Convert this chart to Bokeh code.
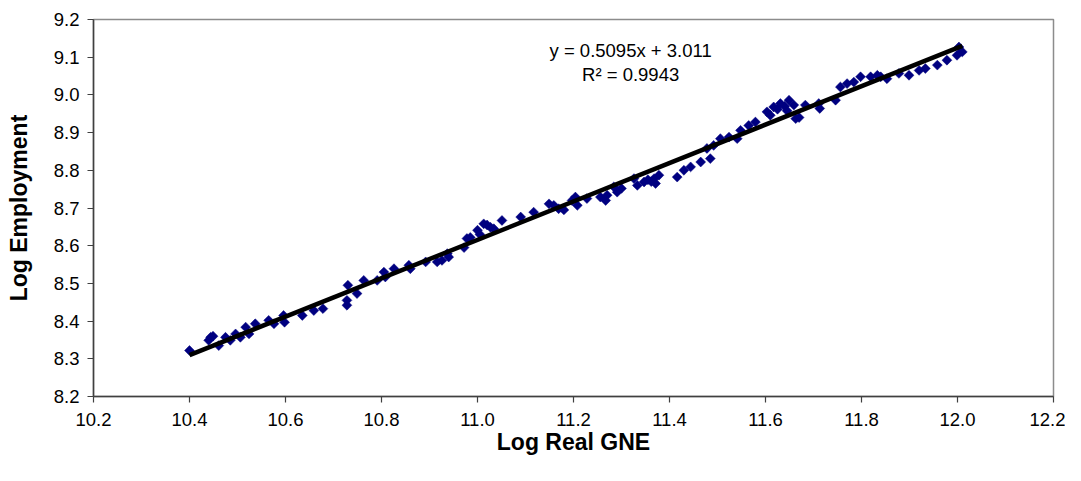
import numpy as np
from bokeh.plotting import figure
from bokeh.models import Range1d, FixedTicker, PrintfTickFormatter, Label
from bokeh.embed import file_html
from bokeh.resources import INLINE

# --- data ---
log_gne = [
    10.400, 10.440, 10.444, 10.449, 10.461, 10.475, 10.485, 10.496, 10.506, 10.517,
    10.524, 10.537, 10.565, 10.576, 10.596, 10.598, 10.635, 10.659, 10.678, 10.728,
    10.728, 10.730, 10.749, 10.763, 10.791, 10.805, 10.808, 10.826, 10.857, 10.860,
    10.892, 10.916, 10.926, 10.937, 10.940, 10.972, 10.978, 10.985, 11.000, 11.005,
    11.013, 11.020, 11.027, 11.034, 11.051, 11.090, 11.117, 11.149, 11.159, 11.169,
    11.180, 11.197, 11.204, 11.208, 11.228, 11.256, 11.267, 11.270, 11.284, 11.291,
    11.300, 11.326, 11.333, 11.347, 11.355, 11.362, 11.368, 11.371, 11.378, 11.416,
    11.430, 11.444, 11.465, 11.478, 11.485, 11.492, 11.506, 11.524, 11.541, 11.548,
    11.565, 11.579, 11.603, 11.610, 11.617, 11.625, 11.631, 11.640, 11.645, 11.649,
    11.659, 11.663, 11.670, 11.683, 11.711, 11.713, 11.746, 11.756, 11.770, 11.784,
    11.798, 11.819, 11.833, 11.840, 11.853, 11.878, 11.899, 11.920, 11.933, 11.958,
    11.978, 11.999, 12.003, 12.010,
]
log_emp = [
    8.322, 8.349, 8.357, 8.360, 8.335, 8.357, 8.349, 8.366, 8.357, 8.384,
    8.366, 8.393, 8.402, 8.393, 8.415, 8.397, 8.415, 8.428, 8.433, 8.455,
    8.442, 8.495, 8.473, 8.508, 8.508, 8.530, 8.517, 8.539, 8.548, 8.539,
    8.557, 8.557, 8.561, 8.579, 8.570, 8.595, 8.619, 8.622, 8.641, 8.630,
    8.658, 8.655, 8.649, 8.645, 8.667, 8.676, 8.689, 8.711, 8.707, 8.698,
    8.695, 8.720, 8.729, 8.707, 8.725, 8.729, 8.720, 8.734, 8.756, 8.742,
    8.752, 8.778, 8.760, 8.769, 8.775, 8.770, 8.778, 8.765, 8.787, 8.782,
    8.800, 8.809, 8.822, 8.858, 8.831, 8.866, 8.884, 8.888, 8.884, 8.906,
    8.919, 8.928, 8.955, 8.946, 8.968, 8.962, 8.977, 8.970, 8.958, 8.986,
    8.973, 8.937, 8.940, 8.973, 8.977, 8.964, 8.986, 9.021, 9.030, 9.034,
    9.048, 9.048, 9.052, 9.048, 9.043, 9.057, 9.052, 9.065, 9.070, 9.079,
    9.092, 9.105, 9.127, 9.114,
]
trend_slope = 0.5095
trend_intercept = 3.011
r_squared = 0.9943
x_ticks = [10.2, 10.4, 10.6, 10.8, 11.0, 11.2, 11.4, 11.6, 11.8, 12.0, 12.2]
y_ticks = [8.2, 8.3, 8.4, 8.5, 8.6, 8.7, 8.8, 8.9, 9.0, 9.1, 9.2]

FONT = "Liberation Sans"

p = figure(width=1065, height=465, output_backend="svg", toolbar_location=None,
           x_range=Range1d(10.2, 12.2), y_range=Range1d(8.2, 9.2),
           min_border_left=93, min_border_right=12, min_border_top=19,
           min_border_bottom=69)
p.background_fill_color = "white"
p.border_fill_color = "white"
p.outline_line_color = "#8c8c8c"
p.outline_line_width = 1.5
p.xgrid.visible = False
p.ygrid.visible = False

for ax, ticks in ((p.xaxis, x_ticks), (p.yaxis, y_ticks)):
    ax.ticker = FixedTicker(ticks=ticks)
    ax.formatter = PrintfTickFormatter(format="%.1f")
    ax.minor_tick_line_color = None
    ax.major_tick_in = 0
    ax.major_tick_out = 6
    ax.axis_line_color = "#404040"
    ax.axis_line_width = 1.5
    ax.major_tick_line_color = "#404040"
    ax.major_tick_line_width = 1.2
    ax.major_label_text_font = FONT
    ax.major_label_text_font_size = "18.5px"
    ax.major_label_text_color = "black"
    ax.axis_label_text_font = FONT
    ax.axis_label_text_font_size = "23px"
    ax.axis_label_text_font_style = "bold"
    ax.axis_label_text_color = "black"

p.xaxis.axis_label = "Log Real GNE"
p.yaxis.axis_label = "Log Employment"
p.xaxis.major_label_standoff = 10
p.yaxis.major_label_standoff = 8
p.xaxis.axis_label_standoff = 0
p.yaxis.axis_label_standoff = 19

# scatter of observations
p.scatter(log_gne, log_emp, marker="square", size=7, angle=np.pi / 4,
          fill_color="#000080", line_color="#000080", line_width=0.5)

# linear trend line
tx = np.array([min(log_gne), max(log_gne)])
ty = trend_slope * tx + trend_intercept
p.line(tx, ty, line_color="black", line_width=4.5)

eq = Label(x=11.319, y=9.118, text=f"y = {trend_slope}x + {trend_intercept}",
           text_align="center", text_baseline="middle", text_font=FONT,
           text_font_size="18.5px", text_color="black")
r2 = Label(x=11.319, y=9.055, text=f"R² = {r_squared}",
           text_align="center", text_baseline="middle", text_font=FONT,
           text_font_size="18.5px", text_color="black")
p.add_layout(eq)
p.add_layout(r2)

open("out.html", "w").write(file_html(p, INLINE))
